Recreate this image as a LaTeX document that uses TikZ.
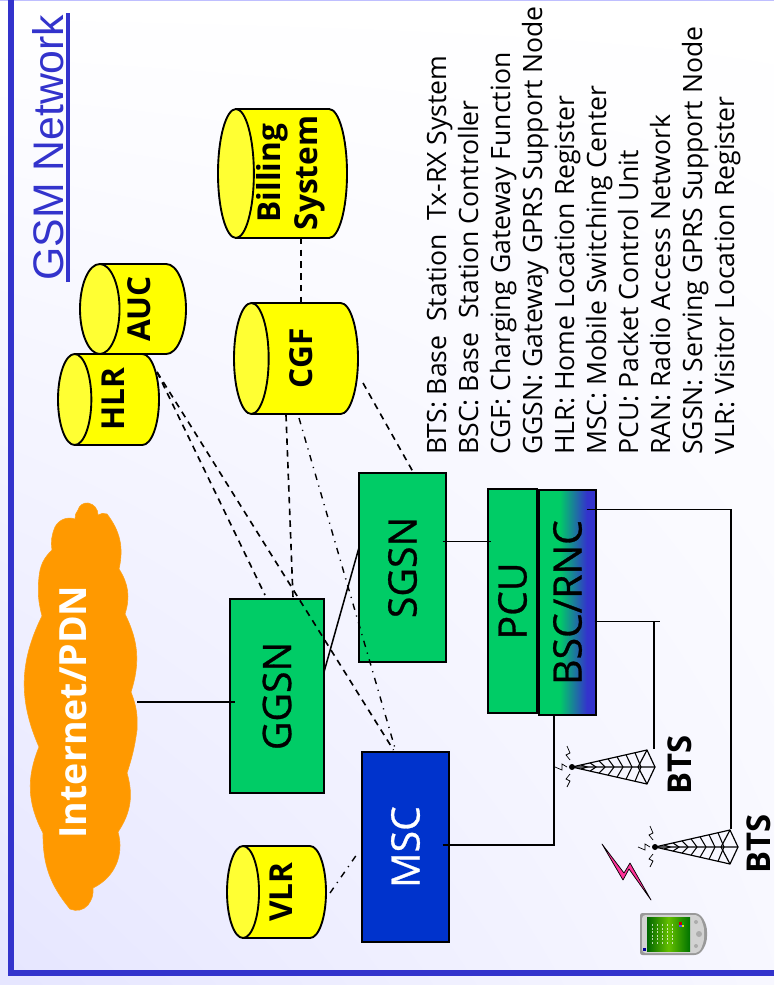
\documentclass[tikz,border=0pt]{standalone}
\usepackage{fontspec}
\setmainfont{Open Sans}
\newfontfamily\titlefont{Liberation Sans}
\newfontfamily\boxfont[FakeBold=0.7]{Open Sans}
\usetikzlibrary{calc,shapes.geometric,shadings}
\definecolor{framblue}{HTML}{3333CC}
\definecolor{boxgreen}{HTML}{00CC66}
\definecolor{mscblue}{HTML}{0033CC}
\definecolor{cloudorange}{HTML}{FF9900}
\definecolor{dbyellow}{HTML}{FFFF00}
\definecolor{dbend}{HTML}{FFFF33}
\definecolor{boltpink}{HTML}{FF3399}
\pgfdeclarehorizontalshading{bscfade}{100bp}{color(0bp)=(boxgreen); color(43bp)=(boxgreen);
  color(67bp)=(framblue); color(100bp)=(framblue)}
\tikzset{
  netbox/.style={draw=black, line width=1.3pt, rotate=90, inner sep=0pt,
    font=\boxfont\fontsize{33.5}{38}\selectfont},
  dbfont/.style={font=\fontsize{27}{32}\selectfont\bfseries},
  dbcyl/.style={cylinder, shape border rotate=90, rotate=90, anchor=shape center, draw=black, line width=1.6pt,
    inner sep=0pt, cylinder uses custom fill, cylinder end fill=dbend, cylinder body fill=dbyellow,
    dbfont, align=center, text depth=7pt},
  legendtext/.style={rotate=90, anchor=base west, inner sep=0pt,
    font=\fontsize{22.7}{28}\selectfont},
  btslabel/.style={rotate=90, inner sep=0pt, font=\fontsize{28}{30}\selectfont\bfseries},
  link/.style={line width=1.3pt},
  dashlink/.style={line width=1.4pt, dash pattern=on 5.5pt off 4.5pt},
  dotlink/.style={line width=1.2pt, dash pattern=on 5.5pt off 5pt on 1pt off 5pt},
  tower/.pic={
    \draw[line width=1pt, line join=round] (75,-17) -- (0,0) -- (75,17) -- (83,0) -- cycle;
    \draw[line width=1pt] (0,0) -- (83,0) (75,-17) -- (66,0) -- (75,17);
    \foreach \t in {9,18,27,36,45,54,63}
      \draw[line width=0.9pt] (\t,{-\t*17/75}) -- (\t+6,0) -- (\t,{\t*17/75});
    \fill (0,0) circle (3);
    \draw[line width=0.6pt] (-2,-7) -- (-6,-12) -- (-2,-14) -- (-5,-21)
      (-2,7) -- (-6,12) -- (-2,14) -- (-5,20)
      (-5,0) -- (-10,-3) -- (-10,3) -- (-17,0);
  }
}
\begin{document}
\begin{tikzpicture}[x=0.03cm, y=-0.03cm]
\useasboundingbox (0,0) rectangle (774,985);
% Fundo e moldura
\shade[lower left=blue!10!white, upper left=white, upper right=white, lower right=blue!3!white]
  (0,0) rectangle (774,985);
\fill[blue!25!white] (0,0) rectangle (774,1.5);
\fill[framblue] (7.5,0) rectangle (14,976);
\fill[framblue] (7.5,970) rectangle (774,976);
% Titulo
\node[rotate=90, anchor=base west, inner sep=0pt, text=framblue,
  font=\titlefont\fontsize{36.5}{44}\selectfont] (title) at (63,281) {GSM Network};
\draw[framblue, line width=3.4pt] ($(title.base west)+(5,1)$) -- ($(title.base east)+(5,-1)$);
% Nuvem
\filldraw[cloudorange!90!white, fill=cloudorange, line width=0.5pt] (78,510) to[bend left=40] (88,503)
  to[bend left=40] (98,515) to[bend left=25] (107,514) to[bend left=25] (119,569)
  to[bend left=25] (125,614) to[bend left=22] (131,692) to[bend left=12] (137,730)
  to[bend left=5] (127,773) to[bend left=25] (118,832) to[bend left=40] (93,888)
  to[bend left=20] (88,905) to[bend left=35] (70,909) to[bend left=20] (43,833)
  to[bend left=25] (39,747) to[bend left=25] (42,616) to[bend left=10] (39,577)
  to[bend left=20] (52,550) to[bend left=15] (55,527) to[bend left=40] (75,519)
  to[bend left=20] cycle;
\node[rotate=90, inner sep=0pt, text=white, font=\fontsize{32}{36}\selectfont\bfseries] (cloud) at (73,712) {Internet/PDN};
% Bases de dados
\node[dbcyl, minimum height=3.87cm, minimum width=3.87cm, shape aspect=1.7] (billing) at (282.5,173.5) {\phantom{X}};
\node[rotate=90, inner sep=0pt, align=center, dbfont] (billtext) at (291,173) {Billing\\System};
\node[dbcyl, minimum height=3.72cm, minimum width=3.33cm, shape aspect=0.58] (cgf) at (296,358.5) {CGF};
\node[dbcyl, minimum height=3.18cm, minimum width=2.7cm, shape aspect=0.6] (auc) at (133,309) {AUC};
\node[dbcyl, minimum height=3.03cm, minimum width=2.73cm, shape aspect=0.53] (hlr) at (108.5,399.5) {HLR};
\node[dbcyl, minimum height=2.97cm, minimum width=2.76cm, shape aspect=0.54] (vlr) at (276.5,892) {VLR};
% Caixas
\shade[shading=bscfade] (539,490) rectangle (596,715);
\node[netbox, fill=boxgreen, minimum width=5.82cm, minimum height=2.82cm] (ggsn) at (277,696) {GGSN};
\node[netbox, fill=boxgreen, minimum width=5.67cm, minimum height=2.61cm] (sgsn) at (402.5,567.5) {SGSN};
\node[netbox, fill=boxgreen, minimum width=6.72cm, minimum height=1.47cm] (pcu) at (512.5,601) {PCU};
\node[netbox, minimum width=6.75cm, minimum height=1.71cm] (bsc) at (567.5,602.5) {BSC/RNC};
\node[netbox, fill=mscblue, text=white, minimum width=5.7cm, minimum height=2.61cm] (msc) at (405.5,847) {MSC};
% Legenda
\foreach \lbl [count=\i from 0] in {BTS: Base~ Station~ Tx-RX System, BSC: Base~ Station Controller,
    CGF: Charging Gateway Function, GGSN: Gateway GPRS Support Node, HLR: Home Location Register,
    MSC: Mobile Switching Center, PCU: Packet Control Unit, RAN: Radio Access Network,
    SGSN: Serving GPRS Support Node, VLR: Visitor Location Register}
  \node[legendtext] (leg\i) at (446+32*\i,455) {\lbl};
% Torres
\pic at (572,767) {tower};
\pic at (655,847) {tower};
\node[btslabel] (bts1) at (680,765) {BTS};
\node[btslabel] (bts2) at (759,844) {BTS};
\coordinate (tower1) at (654,749);
\coordinate (tower2) at (731,829);
% Ligacoes
\draw[link] ($(cloud.center)+(64,-10)$) -- ($(ggsn.center)+(-42,6)$);
\draw[link] ($(ggsn.center)+(47,-24)$) -- ($(sgsn.center)+(-43.5,-20)$);
\draw[link] ($(sgsn.center)+(40,-26)$) -- ($(pcu.center)+(-22,-59.5)$);
\draw[link] ($(msc.center)+(37,-2)$) -| ($(bsc.center)+(-13.5,112.5)$);
\draw[link] ($(bsc.center)+(27,19)$) -- ++(65,0);
\draw[link] ($(bsc.center)+(27,19)$) -| (tower1);
\draw[link] ($(bsc.center)+(19,-93)$) -| (tower2);
\draw[dashlink] ($(billing.shape center)+(18.5,64.5)$) -- ($(cgf.shape center)+(5,-55.5)$);
\draw[dashlink] ($(hlr.shape center)+(48.5,-27.5)$) -- ($(ggsn.center)+(-12,-101)$);
\draw[dashlink] ($(hlr.shape center)+(48.5,-27.5)$) -- ($(msc.center)+(-12,-97)$);
\draw[dashlink] ($(cgf.shape center)+(-10,56.5)$) -- ($(ggsn.center)+(16,-98)$);
\draw[dashlink] ($(cgf.shape center)+(67,24.5)$) -- ($(sgsn.center)+(12,-93)$);
\draw[dotlink] ($(cgf.shape center)+(3,59.5)$) -- ($(msc.center)+(-10,-97)$);
\draw[dotlink] ($(vlr.shape center)+(53.5,1)$) -- ($(msc.center)+(-47,5)$);
% Raio
\filldraw[fill=boltpink, draw=black, line width=0.6pt, line join=round]
  (602,844) -- (623,880) -- (629,869) -- (651,900) -- (630,863) -- (624,873) -- cycle;
% Terminal
\fill[gray!80, rounded corners=2pt] (640,913) -- (692,913) to[out=0,in=90] (707,934) to[out=-90,in=0] (692,955)
  -- (640,955) -- cycle;
\fill[gray!35, rounded corners=3pt] (642,915) -- (692,915) to[out=0,in=90] (704,934) to[out=-90,in=0] (692,953)
  -- (642,953) -- cycle;
\shade[left color=green!40!black, right color=green!45!black, middle color=lime!70!green!75!black] (647,917) rectangle (690,951);
\foreach \t in {652,657,662,667,672}
  \draw[white, line width=0.4pt, dash pattern=on 2pt off 1pt, opacity=0.7] (\t,924) -- (\t,945);
\fill[red!80!black] (679,922) rectangle (681.5,924.5);
\fill[green!70!black] (681.5,922) rectangle (684,924.5);
\fill[blue!70!white] (679,924.5) rectangle (681.5,927);
\fill[yellow!90!black] (681.5,924.5) rectangle (684,927);
\fill[gray!65] (696,922) circle (2) (699,934) circle (3) (696,946) circle (2);
\fill[blue!60!black] (643,948) rectangle (646,951);
\end{tikzpicture}
\end{document}
